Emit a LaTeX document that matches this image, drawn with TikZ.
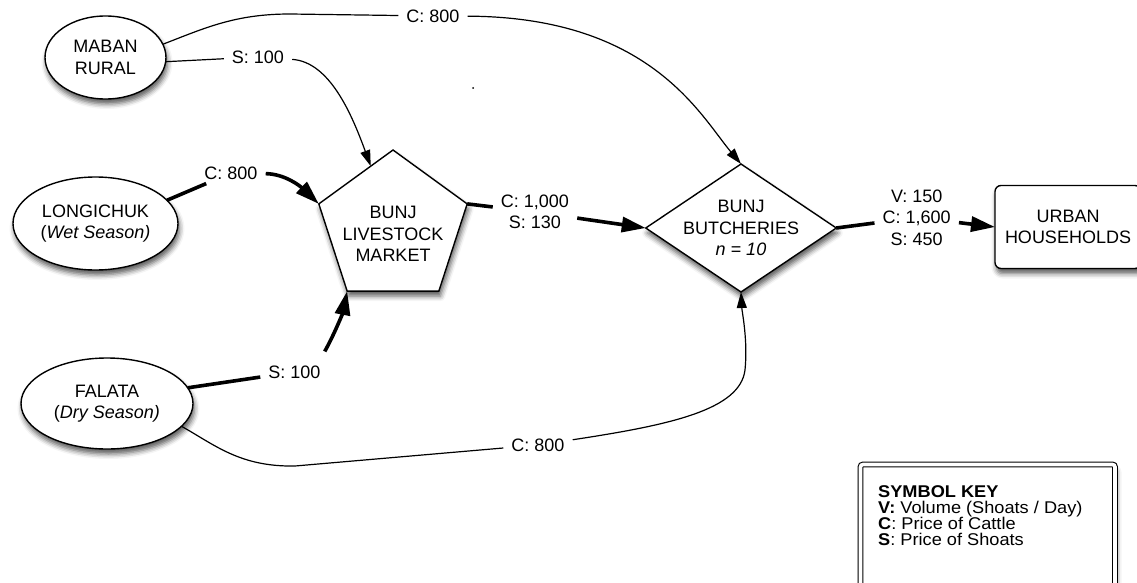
\documentclass[tikz,border=0pt]{standalone}
\usepackage{fontspec}
\setmainfont{Liberation Sans}
\newfontfamily\keyfont[FakeStretch=1.07]{Liberation Sans}
\usetikzlibrary{arrows.meta,shapes.geometric,shadows.blur,calc}

\tikzset{
  softshadow/.style={blur shadow={shadow xshift=1.5pt,shadow yshift=-5pt,shadow blur radius=5pt,shadow opacity=65}},
  srcnode/.style={ellipse, draw, line width=1.4pt, fill=white, inner sep=1pt, outer sep=0pt, align=center, softshadow},
  hub/.style={draw, line width=1.4pt, fill=white, inner sep=0pt, outer sep=0pt, softshadow},
  flowlabel/.style={inner xsep=8pt, inner ysep=4pt, align=center},
  thin flow/.style={line width=1.2pt},
  heavy flow/.style={line width=3.6pt},
  tipthin/.style={-{Triangle[length=16pt,width=10pt]}},
  tipheavy/.style={-{Triangle[length=24pt,width=15pt]}},
}

\begin{document}
\begin{tikzpicture}[x=1pt,y=-1pt,font=\fontsize{18}{21.5}\selectfont]
\useasboundingbox (0,0) rectangle (1137,583);

% supply areas
\node[srcnode, minimum width=121pt, minimum height=83pt] (maban) at (105.5,57.5) {MABAN\\RURAL};
\node[srcnode, minimum width=165pt, minimum height=93pt] (longi) at (95.5,223.5) {LONGICHUK\\(\textit{Wet Season)}};
\node[srcnode, minimum width=172pt, minimum height=91pt] (falata) at (107,403.5) {FALATA\\(\textit{Dry Season)}};

% market, butcheries and consumers
\node[hub, regular polygon, regular polygon sides=5, minimum size=156pt,
      label={[align=center,yshift=-6pt]center:BUNJ\\LIVESTOCK\\MARKET}] (market) at (393,228) {};
\node[hub, diamond, aspect=1.5, minimum width=190.5pt, minimum height=128pt,
      label={[align=center]center:BUNJ\\BUTCHERIES\\\textit{n = 10}}] (butch) at (741,228) {};
\node[hub, rectangle, rounded corners=6pt, minimum width=146pt, minimum height=83pt, align=center] (urban) at (1068,227) {URBAN\\HOUSEHOLDS};

% symbol key
\node[draw, line width=1.1pt, double, double distance=3.6pt, rounded corners=2.5pt, fill=white, softshadow,
      anchor=north west, minimum width=254.5pt, minimum height=150pt, inner sep=0pt, outer sep=0pt] (keybox) at (860.5,464.5) {};
\node[anchor=north west, inner sep=0pt, align=left, font={\keyfont\fontsize{17}{16}\selectfont}] (keytext) at (878,485.5)
  {\bfseries SYMBOL KEY\\
   \textbf{V:} Volume (Shoats / Day)\\
   \textbf{C}: Price of Cattle\\
   \textbf{S}: Price of Shoats};

% stray mark
\fill (473,88) circle (1pt);

% price labels
\node[flowlabel] (lc1) at (433,16) {C: 800};
\node[flowlabel] (lb1) at (258,57) {S: 100};
\node[flowlabel] (lc2) at (231,173) {C: 800};
\node[flowlabel] (lcs) at (535,212) {C: 1,000\\S: 130};
\node[flowlabel] (lvcs) at (916.7,217.5) {V: 150\\C: 1,600\\S: 450};
\node[flowlabel] (lb2) at (294.5,372) {S: 100};
\node[flowlabel] (lc3) at (538,445) {C: 800};

% Maban cattle to the butcheries
\draw[thin flow] (maban.13) .. controls (205,28) and (235,14) .. (290,14) -- (lc1);
\draw[thin flow, tipthin] (lc1) .. controls (650,17) and (700,115) .. (butch.north);
% Maban shoats to the market
\draw[thin flow] (maban.-4) -- (lb1);
\path (market.corner 1) -- (market.corner 2) coordinate[pos=0.3] (mtip);
\draw[thin flow, tipthin] (lb1) .. controls (330,62) and (352,115) .. (mtip);
% Longichuk cattle to the market
\draw[heavy flow] (longi.18) -- (lc2);
\draw[heavy flow, tipheavy] (lc2) .. controls (285,174) and (300,186) .. (market.corner 2);
% Falata shoats to the market
\draw[heavy flow] (falata.11) -- (lb2);
\draw[heavy flow, tipheavy] ([xshift=-4pt,yshift=10pt]lb2.north east) .. controls (335,333) and (343,312) .. (market.corner 3);
% Falata cattle to the butcheries
\draw[thin flow] (falata.-17) .. controls (215,445) and (240,467) .. (295,466) -- (lc3);
\draw[thin flow, tipthin] (lc3) .. controls (670,425) and (740,410) .. (745,370) .. controls (748,340) and (742,312) .. (butch.south);
% market to butcheries
\draw[heavy flow] (market.corner 5) -- (lcs);
\draw[heavy flow, tipheavy] (lcs) -- (butch.west);
% butcheries to households
\draw[heavy flow] (butch.east) -- (lvcs);
\draw[heavy flow, tipheavy] (lvcs) -- (urban.west);
\end{tikzpicture}
\end{document}
